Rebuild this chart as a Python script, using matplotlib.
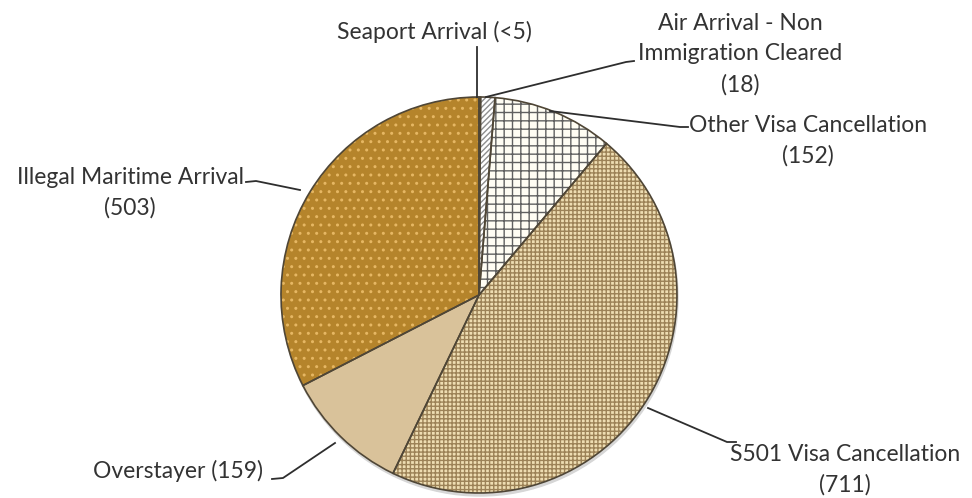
import matplotlib
matplotlib.use("Agg")
import matplotlib.pyplot as plt

# datos
etiquetas = ["Seaport Arrival (<5)",
             "Air Arrival - Non\nImmigration Cleared\n(18)",
             "Other Visa Cancellation\n(152)",
             "S501 Visa Cancellation\n(711)",
             "Overstayer (159)",
             "Illegal Maritime Arrival\n(503)"]
valores = [2, 18, 152, 711, 159, 503]

colores = ["#E9D3A6", "#FFFFFF", "#FFFDF3", "#EEDDB2", "#D9C29A", "#B5842B"]
tramas = ["////", "//////", "++", "++++", None, ".."]
color_trama = ["#8A7A5A", "#8E8E8E", "#606060", "#9C8257", "#D9C29A", "#E6B763"]

plt.rcParams["font.family"] = ["Lato", "DejaVu Sans"]
plt.rcParams["hatch.linewidth"] = 1.0

fig = plt.figure(figsize=(9.72, 4.98), dpi=100)
ax = fig.add_axes([0, 0, 1, 1])

cx, cy, r = 479, 295, 198

# sombra
sombra = plt.Circle((cx + 1, cy + 3), r, color="#D6D6D6", zorder=0)
ax.add_patch(sombra)

# relleno con tramas (eje y invertido: startangle=-90 es arriba y counterclock=True se ve horario)
cunas, _ = ax.pie(valores, center=(cx, cy), radius=r, startangle=-90, counterclock=True,
                  colors=colores, wedgeprops=dict(linewidth=0))
for c, t, hc in zip(cunas, tramas, color_trama):
    c.set_zorder(1)
    if t:
        c.set_hatch(t)
        c.set_edgecolor(hc)

# bordes
bordes, _ = ax.pie(valores, center=(cx, cy), radius=r, startangle=-90, counterclock=True,
                   wedgeprops=dict(fill=False, edgecolor="#4F4636", linewidth=1.2))
for b in bordes:
    b.set_zorder(2)

ax.set_xlim(0, 972)
ax.set_ylim(498, 0)
ax.set_aspect("equal")
ax.axis("off")

# textos y lineas guia
txt = dict(fontsize=16.5, color="#333333", ha="center", va="center", linespacing=1.55)
lin = dict(color="#2E2E2E", linewidth=1.3)

ax.text(434, 32, etiquetas[0], **txt)
ax.plot([477, 477], [47, 97], **lin)

ax.text(740, 54, etiquetas[1], **txt)
ax.plot([486, 626, 634], [97, 62, 61], **lin)

ax.text(808, 141, etiquetas[2], **txt)
ax.plot([550, 680, 688], [111, 127, 127], **lin)

ax.text(845, 470, etiquetas[3], **txt)
ax.plot([648, 727, 736], [408, 442, 442], **lin)

ax.text(178, 471, etiquetas[4], **txt)
ax.plot([272, 283, 335], [479, 478, 443], **lin)

ax.text(130, 193, etiquetas[5], **txt)
ax.plot([246, 256, 300], [182, 181, 190], **lin)

fig.savefig("out.png", dpi=100, facecolor="white")
